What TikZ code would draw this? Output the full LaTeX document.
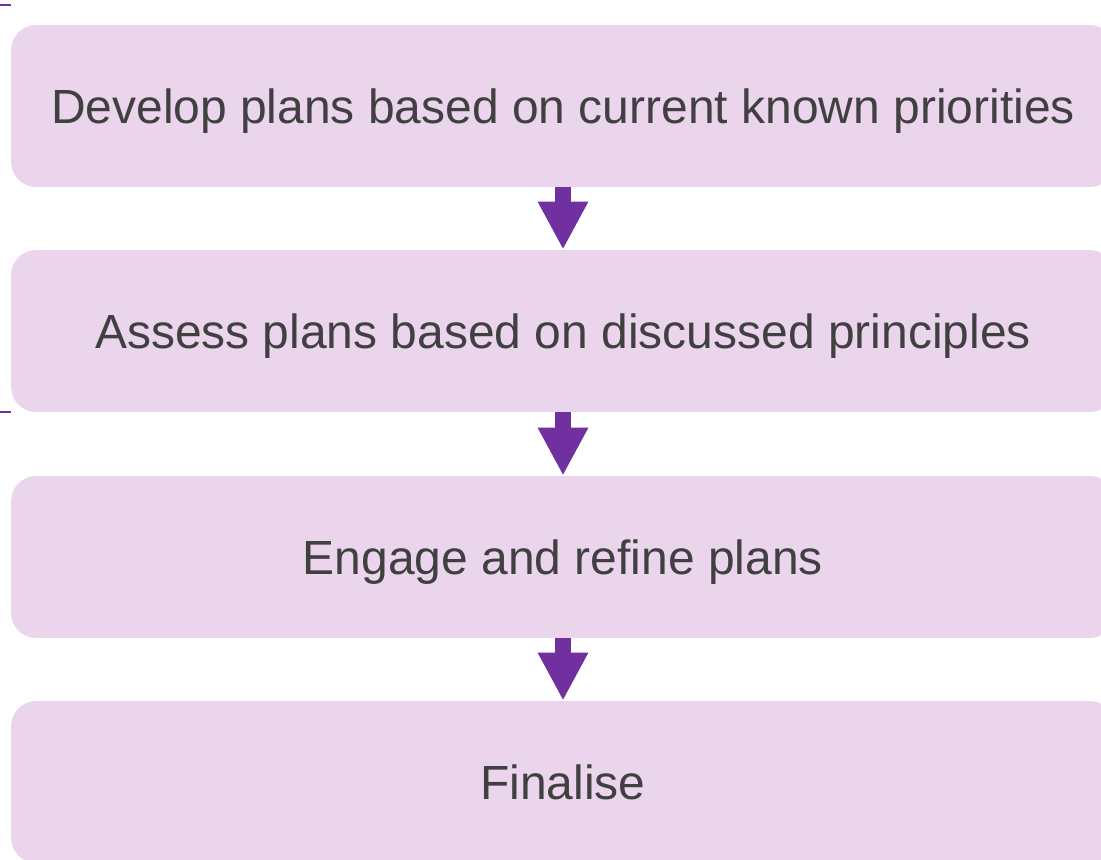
\documentclass[tikz,border=0pt]{standalone}
\usepackage{fontspec}
\setmainfont{Liberation Sans}
\usetikzlibrary{arrows.meta,positioning}

\definecolor{stepfill}{RGB}{235,213,236}
\definecolor{steparrow}{RGB}{112,48,160}
\definecolor{steptext}{RGB}{64,64,64}

\begin{document}
\begin{tikzpicture}[
    x=0.02cm, y=-0.02cm,
    stepbox/.style={fill=stepfill, rounded corners=0.5cm, minimum width=22.08cm,
                    minimum height=3.24cm, inner sep=0pt, text=steptext,
                    text height=19.5pt, text depth=0pt,
                    font=\fontsize{27.3}{32}\selectfont},
    flow/.style={draw=steparrow, line width=0.32cm,
                 -{Triangle[width=0.94cm, length=0.96cm]}, shorten >=0pt}
]
    \useasboundingbox (0,0) rectangle (1101,859);
    \clip (0,0) rectangle (1101,859);

    % stray edge marks on the left
    \draw[steparrow, line width=0.04cm] (0,5) -- (11,5);
    \draw[steparrow, line width=0.04cm] (0,412) -- (11,412);

    % the four steps
    \node[stepbox] (develop) at (563,106) {Develop plans based on current known priorities};
    \node[stepbox] (assess) at (563,331) {Assess plans based on discussed principles};
    \node[stepbox] (engage) at (563,557) {Engage and refine plans};
    \node[stepbox] (finalise) at (563,782) {Finalise};

    % arrows between steps
    \draw[flow] (develop.south) -- (assess.north);
    \draw[flow] (assess.south) -- (engage.north);
    \draw[flow] (engage.south) -- (finalise.north);
\end{tikzpicture}
\end{document}
